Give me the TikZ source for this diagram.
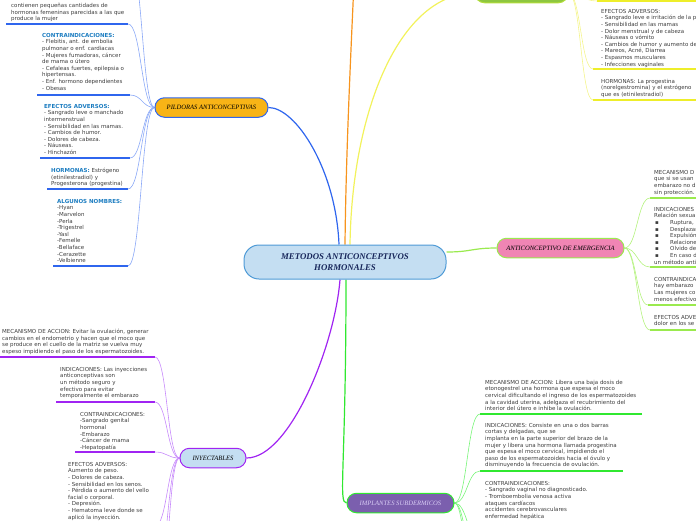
\documentclass[tikz,border=0pt]{standalone}
\usepackage{fontspec}
\setmainfont{DejaVu Sans}
\newfontfamily\topicfont{Liberation Serif}
\usepackage{tikz}
\usetikzlibrary{calc,backgrounds}

\definecolor{textgray}{HTML}{3D3D3D}
\definecolor{headblue}{HTML}{1B7CC0}
\definecolor{cfill}{HTML}{C4DEF2}
\definecolor{cline}{HTML}{4E9AD6}
\definecolor{cnavy}{HTML}{17265A}
\definecolor{pblue}{HTML}{2F66EE}
\definecolor{pblueL}{HTML}{8AA8F7}
\definecolor{porange}{HTML}{F8B416}
\definecolor{branchor}{HTML}{F7941D}
\definecolor{yel}{HTML}{EEEE2A}
\definecolor{yelM}{HTML}{F2F25C}
\definecolor{yelL}{HTML}{F4F48C}
\definecolor{lgreen}{HTML}{9AEA4E}
\definecolor{lgreenL}{HTML}{B4F27E}
\definecolor{pinkfill}{HTML}{F085B4}
\definecolor{grn}{HTML}{30E830}
\definecolor{grnL}{HTML}{78F478}
\definecolor{impfill}{HTML}{7B5FAE}
\definecolor{imptext}{HTML}{D9CDF5}
\definecolor{purp}{HTML}{A024F2}
\definecolor{purpL}{HTML}{C78AFB}
\definecolor{parfill}{HTML}{8DC640}
\definecolor{parline}{HTML}{B2DD3A}

\newcommand{\rubro}[1]{\textcolor{headblue}{\textbf{#1}}}
\newcommand{\vineta}{\makebox[16pt][l]{\,▪}}

\begin{document}
\begin{tikzpicture}[x=1pt, y=-1pt,
  mm/.style={to path={let \p1=(\tikztostart), \p2=(\tikztotarget) in .. controls ({0.5*\x1+0.5*\x2},\y1) and ({0.5*\x1+0.5*\x2},\y2) .. (\tikztotarget)}},
  topic/.style={draw, line width=1pt, rounded corners=9.5pt, minimum height=19.5pt, inner sep=0pt, text=black, font=\topicfont\itshape\fontsize{6.6}{7}\selectfont},
  note/.style={anchor=north west, inner sep=0pt, align=left, text=textgray, font=\fontsize{5.5}{6.6}\selectfont},
  branch/.style={line width=1.2pt},
  twig/.style={line width=0.6pt},
  uline/.style={line width=1.6pt}
]
\useasboundingbox (0,0) rectangle (696,520);
\clip (0,0) rectangle (696,520);

% temas
\node[draw=cline, fill=cfill, line width=1pt, rounded corners=15pt, minimum width=202pt, minimum height=34pt, inner sep=0pt, align=center, text=cnavy, font=\topicfont\bfseries\itshape\fontsize{8.8}{10.5}\selectfont] (centro) at (345,262) {METODOS ANTICONCEPTIVOS\\HORMONALES};
\node[topic, draw=pblue, fill=porange, minimum width=113pt] (pild) at (211.5,107.5) {PILDORAS ANTICONCEPTIVAS};
\node[topic, draw=parline, fill=parfill, minimum width=93pt] (parche) at (521.5,-7) {};
\node[topic, draw=lgreen, fill=pinkfill, minimum width=127pt] (emer) at (560.5,248) {ANTICONCEPTIVO DE EMERGENCIA};
\node[topic, draw=purp, fill=cfill, minimum width=66pt] (iny) at (213,458) {INYECTABLES};
\node[topic, draw=grn, fill=impfill, minimum width=107pt, text=imptext] (impl) at (400.5,503) {IMPLANTES SUBDERMICOS};
\coordinate (anillo) at (355,-40);

% pildoras
\node[note] (ptop) at (11,3) {contienen pequeñas cantidades de\\hormonas femeninas parecidas a las que\\produce la mujer};
\node[note] (pcontra) at (42,33) {\rubro{CONTRAINDICACIONES:}\\- Flebitis, ant. de embolia\\pulmonar o enf. cardiacas\\- Mujeres fumadoras, cáncer\\de mama o útero\\- Cefaleas fuertes, epilepsia o\\hipertensas.\\- Enf. hormono dependientes\\- Obesas};
\node[note] (pefect) at (44,104) {\rubro{EFECTOS ADVERSOS:}\\- Sangrado leve o manchado\\intermenstrual\\- Sensibilidad en las mamas.\\- Cambios de humor.\\- Dolores de cabeza.\\- Náuseas.\\- Hinchazón};
\node[note] (phorm) at (51,168) {\rubro{HORMONAS:} Estrógeno\\(etinilestradiol) y\\Progesterona (progestina)};
\node[note] (pnomb) at (57,199) {\rubro{ALGUNOS NOMBRES:}\\-Hyan\\-Marvelon\\-Perla\\-Trigestrel\\-Yasl\\-Femelle\\-Bellaface\\-Cerazette\\-Velbienne};

% parche
\node[note] (yefect) at (601,9) {EFECTOS ADVERSOS:\\- Sangrado leve e irritación de la p\\- Sensibilidad en las mamas\\- Dolor menstrual y de cabeza\\- Náuseas o vómito\\- Cambios de humor y aumento de\\- Mareos, Acné, Diarrea\\- Espasmos musculares\\- Infecciones vaginales};
\node[note] (yhorm) at (601,79) {HORMONAS: La progestina\\(norelgestromina) y el estrógeno\\que es (etinilestradiol)};

% emergencia
\node[note] (emec) at (654,170) {MECANISMO D\\que si se usan\\embarazo no d\\sin protección.};
\node[note] (eind) at (654,207) {INDICACIONES\\Relación sexua\\\vineta Ruptura,\\\vineta Desplazar\\\vineta Expulsión\\\vineta Relacione\\\vineta Olvido de\\\vineta En caso d\\un método anti};
\node[note] (econ) at (654,277) {CONTRAINDICA\\hay embarazo\\Las mujeres co\\menos efectivo};
\node[note] (eefe) at (654,315) {EFECTOS ADVE\\dolor en los se};

% inyectables
\node[note] (imec) at (2,329) {MECANISMO DE ACCION: Evitar la ovulación, generar\\cambios en el endometrio y hacen que el moco que\\se produce en el cuello de la matriz se vuelva muy\\espeso impidiendo el paso de los espermatozoides.};
\node[note] (iind) at (60,367) {INDICACIONES: Las inyecciones\\anticonceptivas son\\un método seguro y\\efectivo para evitar\\temporalmente el embarazo};
\node[note] (icon) at (80,412) {CONTRAINDICACIONES:\\-Sangrado genital\\hormonal\\-Embarazo\\-Cáncer de mama\\-Hepatopatía};
\node[note] (iefe) at (68,462) {EFECTOS ADVERSOS:\\Aumento de peso.\\- Dolores de cabeza.\\- Sensibilidad en los senos.\\- Pérdida o aumento del vello\\facial o corporal.\\- Depresión.\\- Hematoma leve donde se\\aplicó la inyección.};

% implantes
\node[note] (mmec) at (485,380) {MECANISMO DE ACCION: Libera una baja dosis de\\etonogestrel una hormona que espesa el moco\\cervical dificultando el ingreso de los espermatozoides\\a la cavidad uterina, adelgaza el recubrimiento del\\interior del útero e inhibe la ovulación.};
\node[note] (mind) at (485,423) {INDICACIONES: Consiste en una o dos barras\\cortas y delgadas, que se\\implanta en la parte superior del brazo de la\\mujer y libera una hormona llamada progestina\\que espesa el moco cervical, impidiendo el\\paso de los espermatozoides hacia el óvulo y\\disminuyendo la frecuencia de ovulación.};
\node[note] (mcon) at (485,481) {CONTRAINDICACIONES:\\- Sangrado vaginal no diagnosticado.\\- Tromboembolia venosa activa\\ataques cardíacos\\accidentes cerebrovasculares\\enfermedad hepática};

\begin{scope}[on background layer]
\clip (0,0) rectangle (696,520);
% ramas principales
\draw[branch, pblue] ([xshift=-6pt]centro.north) .. controls (336,170) and (296,107.5) .. (pild.east);
\draw[branch, branchor] (centro.north) .. controls (346,150) and (351,50) .. (anillo);
\draw[branch, yelM] ([xshift=5pt]centro.north) .. controls (352,110) and (400,-7) .. (parche.west);
\draw[branch, lgreen] ([yshift=10pt]centro.east) to[mm] (emer.west);
\draw[branch, grn] ([xshift=1pt]centro.south) .. controls (346,470) and (338,503) .. (impl.west);
\draw[branch, purp] ([xshift=-5pt]centro.south) .. controls (335,345) and (290,458) .. (iny.east);

% pildoras
\coordinate (p0) at (130,-40);
\draw[uline, pblue] (6,24) -- (128,24) coordinate (p1);
\draw[uline, pblue] (37,95) -- (130,95) coordinate (p2);
\draw[uline, pblue] (40,158) -- (130,158) coordinate (p3);
\draw[uline, pblue] (47,189) -- (128,189) coordinate (p4);
\draw[uline, pblue] (53,266) -- (128,266) coordinate (p5);
\foreach \k in {0,...,5} \draw[twig, pblueL] (pild.west) to[mm] (p\k);

% parche
\draw[uline, yel] (700,1) -- (597,1) coordinate (y1);
\draw[uline, yel] (700,69) -- (593,69) coordinate (y2);
\draw[uline, yel] (700,100) -- (593,100) coordinate (y3);
\foreach \k in {1,2,3} \draw[twig, yelL] (parche.east) to[mm] (y\k);

% emergencia
\draw[uline, lgreen] (700,198) -- (650,198) coordinate (e1);
\draw[uline, lgreen] (700,267) -- (650,267) coordinate (e2);
\draw[uline, lgreen] (700,305) -- (648,305) coordinate (e3);
\draw[uline, lgreen] (700,330) -- (650,330) coordinate (e4);
\foreach \k in {1,...,4} \draw[twig, lgreenL] (emer.east) to[mm] (e\k);

% inyectables
\draw[uline, purp] (0,357) -- (155,357) coordinate (i1);
\draw[uline, purp] (56,402) -- (155,402) coordinate (i2);
\draw[uline, purp] (75,452) -- (155,452) coordinate (i3);
\draw[uline, purp] (62,526) -- (155,526) coordinate (i4);
\coordinate (i5) at (155,580);
\coordinate (i6) at (155,640);
\foreach \k in {1,...,6} \draw[twig, purpL] (iny.west) to[mm] (i\k);

% implantes
\draw[uline, grn] (642,414) -- (480,414) coordinate (m1);
\draw[uline, grn] (623,471) -- (480,471) coordinate (m2);
\coordinate (m3) at (480,540);
\coordinate (m4) at (480,590);
\coordinate (m5) at (480,640);
\foreach \k in {1,...,5} \draw[twig, grnL] (impl.east) to[mm] (m\k);
\end{scope}
\end{tikzpicture}
\end{document}
